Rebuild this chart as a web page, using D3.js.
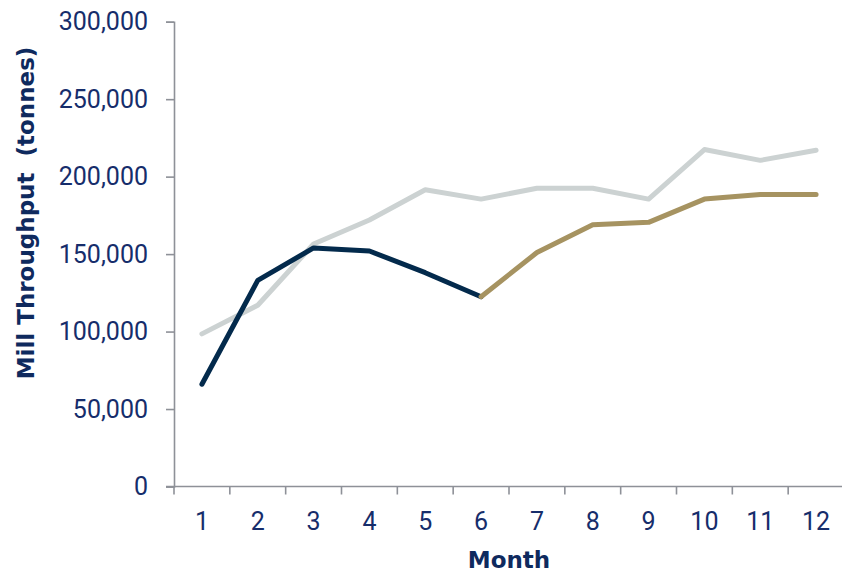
<!DOCTYPE html>
<html>
<head>
<meta charset="utf-8">
<script src="https://cdn.jsdelivr.net/npm/d3@7"></script>
<style>
  html, body { margin: 0; padding: 0; background: #fff; }
  svg { display: block; font-family: Roboto, "Noto Sans", sans-serif; }
</style>
</head>
<body>
<svg id="chart" width="842" height="573"></svg>
<script>
// Monthly mill throughput (tonnes)
const months = [1, 2, 3, 4, 5, 6, 7, 8, 9, 10, 11, 12];
const planTonnes = [98500, 117000, 156500, 172000, 191500, 185500, 192500, 192500, 185500, 217500, 210500, 217000];
const actualMonths = [1, 2, 3, 4, 5, 6];
const actualTonnes = [66000, 133000, 154000, 152000, 138000, 122500];
const forecastMonths = [6, 7, 8, 9, 10, 11, 12];
const forecastTonnes = [122500, 151000, 169000, 170500, 185500, 188500, 188500];
const yTicks = [0, 50000, 100000, 150000, 200000, 250000, 300000];

const svg = d3.select("#chart");
const plotLeft = 174, plotRight = 844, plotTop = 21.7, plotBottom = 486.5;

const x = d3.scaleBand().domain(months).range([plotLeft, plotRight]);
const y = d3.scaleLinear().domain([0, 300000]).range([plotBottom, plotTop]);
const cx = m => x(m) + x.bandwidth() / 2;

const axisColor = "#8e9198";
const labelColor = "#162d6b";
const titleColor = "#0f2a5e";
const titleFont = "'DejaVu Sans', 'Open Sans', sans-serif";

// Y axis
const yAxis = svg.append("g")
  .attr("transform", `translate(${plotLeft},0)`)
  .call(d3.axisLeft(y).tickValues(yTicks).tickSize(8).tickPadding(18)
    .tickFormat(d3.format(",")));
yAxis.select(".domain").attr("stroke", axisColor).attr("stroke-width", 1.6);
yAxis.selectAll(".tick line").attr("stroke", axisColor).attr("stroke-width", 1.6);
yAxis.selectAll(".tick text")
  .attr("fill", labelColor).attr("font-size", 25).attr("font-family", "Roboto");

// X axis with ticks on category boundaries
const xAxis = svg.append("g")
  .attr("transform", `translate(0,${plotBottom})`)
  .call(d3.axisBottom(x).tickSize(0).tickPadding(26));
xAxis.select(".domain").attr("stroke", axisColor).attr("stroke-width", 1.6)
  .attr("d", `M${plotLeft - 8},0H${plotRight}`);
xAxis.selectAll(".tick text")
  .attr("fill", labelColor).attr("font-size", 25).attr("font-family", "Roboto");
xAxis.selectAll("line.bound")
  .data(months)
  .join("line")
  .attr("class", "bound")
  .attr("x1", m => x(m)).attr("x2", m => x(m))
  .attr("y1", 0).attr("y2", 8)
  .attr("stroke", axisColor).attr("stroke-width", 1.6);

// Lines
const line = d3.line().x(d => cx(d[0])).y(d => y(d[1]));
const series = [
  { m: months, v: planTonnes, color: "#ccd2d2" },
  { m: actualMonths, v: actualTonnes, color: "#032a4c" },
  { m: forecastMonths, v: forecastTonnes, color: "#a69361" }
];
svg.append("g").selectAll("path")
  .data(series)
  .join("path")
  .attr("d", s => line(s.m.map((m, i) => [m, s.v[i]])))
  .attr("fill", "none")
  .attr("stroke", s => s.color)
  .attr("stroke-width", 5)
  .attr("stroke-linejoin", "round")
  .attr("stroke-linecap", "round");

// Axis titles
svg.append("text")
  .attr("transform", `translate(34,213) rotate(-90)`)
  .attr("text-anchor", "middle")
  .attr("font-family", titleFont)
  .attr("font-weight", "bold")
  .attr("font-size", 23)
  .attr("fill", titleColor)
  .attr("xml:space", "preserve")
  .text("Mill Throughput  (tonnes)");

svg.append("text")
  .attr("x", 509).attr("y", 568)
  .attr("text-anchor", "middle")
  .attr("font-family", titleFont)
  .attr("font-weight", "bold")
  .attr("font-size", 23)
  .attr("fill", titleColor)
  .text("Month");
</script>
</body>
</html>
